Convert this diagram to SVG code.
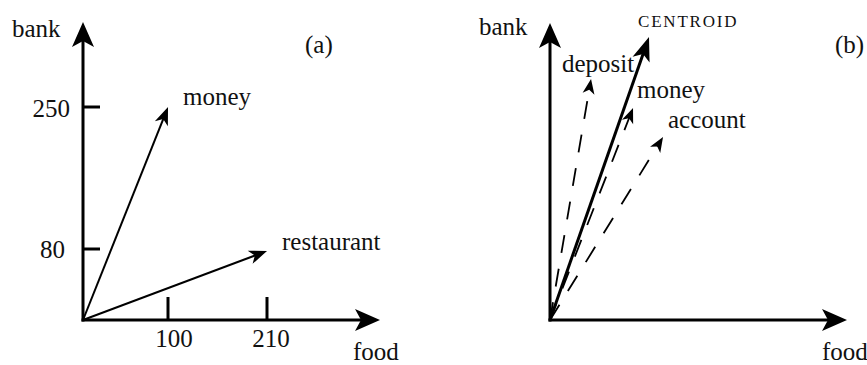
<svg xmlns="http://www.w3.org/2000/svg" width="867" height="365" viewBox="0 0 867 365">
<style>
text{font-family:"Liberation Serif","Times New Roman",serif;font-size:25px;fill:#111}
.small{font-size:17px;letter-spacing:1.8px}
.axis{stroke:#000;stroke-width:3;fill:none}
.tick{stroke:#000;stroke-width:3;fill:none}
.vec{stroke:#000;stroke-width:2;fill:none}
.cen{stroke:#000;stroke-width:3;fill:none}
.dash{stroke:#000;stroke-width:1.8;fill:none;stroke-dasharray:18 16}
</style>
<defs>
<marker id="ax" markerUnits="userSpaceOnUse" orient="auto" refX="-12" refY="0" markerWidth="30" markerHeight="30" overflow="visible">
<path d="M0,0 L-25,-11 L-19,0 L-25,11 Z" fill="#000"/>
</marker>
<marker id="vm" markerUnits="userSpaceOnUse" orient="auto" refX="-6" refY="0" markerWidth="20" markerHeight="20" overflow="visible">
<path d="M0,0 L-18,-7 L-13,0 L-18,7 Z" fill="#000"/>
</marker>
<marker id="cm" markerUnits="userSpaceOnUse" orient="auto" refX="-10" refY="0" markerWidth="30" markerHeight="30" overflow="visible">
<path d="M0,0 L-24,-9 L-18,0 L-24,9 Z" fill="#000"/>
</marker>
<marker id="dm" markerUnits="userSpaceOnUse" orient="auto" refX="-5" refY="0" markerWidth="20" markerHeight="20" overflow="visible">
<path d="M0,0 L-15,-6 L-11,0 L-15,6 Z" fill="#000"/>
</marker>
</defs>

<g id="panel-a-axes">
<line class="axis" x1="83" y1="321.5" x2="83" y2="34" marker-end="url(#ax)"/>
<line class="axis" x1="81.5" y1="320" x2="368" y2="320" marker-end="url(#ax)"/>
<line class="tick" x1="83" y1="107" x2="100" y2="107"/>
<line class="tick" x1="83" y1="249" x2="100" y2="249"/>
<line class="tick" x1="168" y1="297" x2="168" y2="320"/>
<line class="tick" x1="267" y1="297" x2="267" y2="320"/>
<text x="12" y="37">bank</text>
<text x="70" y="117" text-anchor="end">250</text>
<text x="65" y="258" text-anchor="end">80</text>
<text x="174" y="347" text-anchor="middle">100</text>
<text x="271" y="347" text-anchor="middle">210</text>
<text x="353" y="360">food</text>
<text x="305" y="53">(a)</text>
</g>

<g id="panel-b-axes">
<line class="axis" x1="550" y1="321.5" x2="550" y2="35" marker-end="url(#ax)"/>
<line class="axis" x1="548.5" y1="320" x2="835" y2="320" marker-end="url(#ax)"/>
<text x="479" y="35">bank</text>
<text x="822" y="360">food</text>
<text x="835" y="53">(b)</text>
</g>

<g id="connectors">
<line class="vec" x1="83" y1="320" x2="165.8" y2="112.6" marker-end="url(#vm)"/>
<line class="vec" x1="83" y1="320" x2="261.4" y2="253.1" marker-end="url(#vm)"/>
<line class="dash" x1="550" y1="320" x2="590.2" y2="83.9" marker-end="url(#dm)"/>
<line class="dash" x1="550" y1="320" x2="631.2" y2="112.7" marker-end="url(#dm)"/>
<line class="dash" x1="550" y1="320" x2="660.4" y2="141.3" marker-end="url(#dm)"/>
<line class="cen" x1="550" y1="320" x2="645.7" y2="46.4" marker-end="url(#cm)"/>
</g>

<g id="node-money-a"><text x="183" y="105">money</text></g>
<g id="node-restaurant"><text x="282" y="250">restaurant</text></g>
<g id="node-centroid"><text class="small" x="638" y="27">CENTROID</text></g>
<g id="node-deposit"><text x="562" y="72">deposit</text></g>
<g id="node-money-b"><text x="637" y="98">money</text></g>
<g id="node-account"><text x="668" y="128">account</text></g>
</svg>
